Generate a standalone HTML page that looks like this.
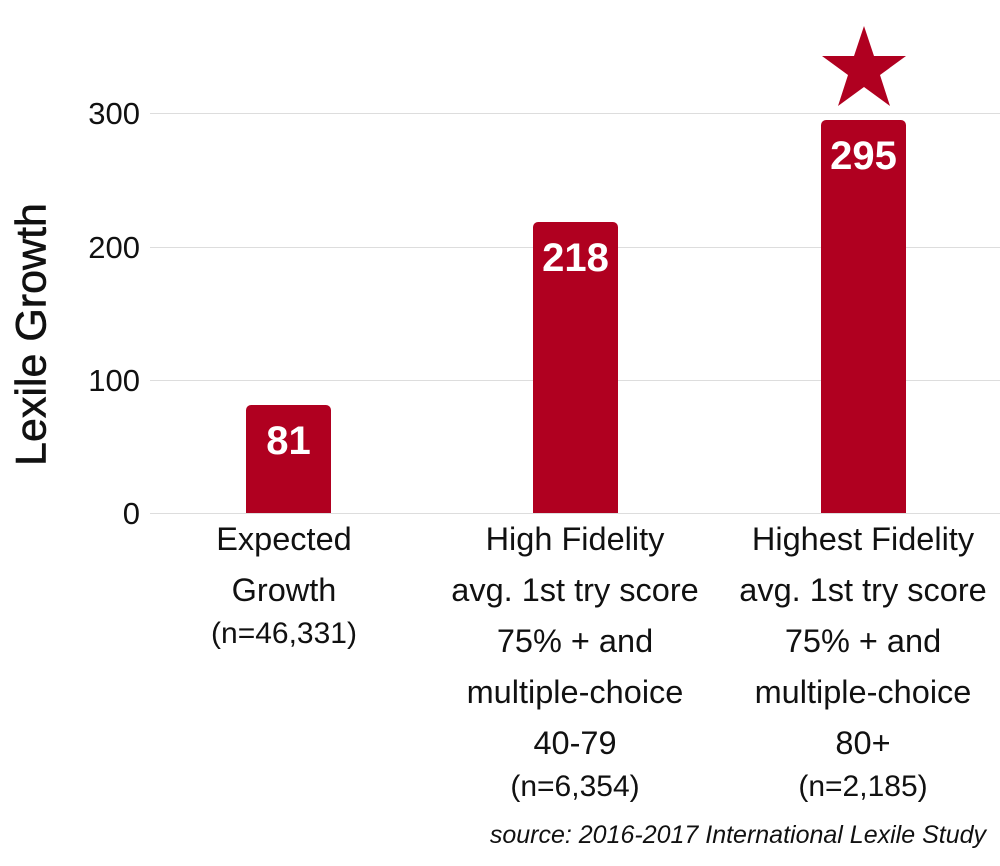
<!DOCTYPE html><html><head><style>
body{margin:0;width:1000px;height:866px;background:#fff;overflow:hidden;font-family:"Liberation Sans",sans-serif}
.a{position:absolute}
.g{position:absolute;left:150px;width:850px;height:1px;background:#ddd}
.t{position:absolute;width:100px;left:40px;text-align:right;font-size:31px;color:#111;line-height:30px}
.b{position:absolute;width:85px;background:#b00020;border-radius:5px 5px 0 0;color:#fff;font-size:40px;font-weight:bold;text-align:center;line-height:72px}
.c{position:absolute;width:320px;text-align:center;color:#111;font-size:32.5px;line-height:51px}
.c small{font-size:30px;display:block;line-height:30px;margin-top:3px}
</style></head><body>
<div class="g" style="top:113px"></div><div class="g" style="top:247px"></div><div class="g" style="top:380px"></div><div class="g" style="top:513px"></div>
<div class="t" style="top:99px">300</div><div class="t" style="top:233px">200</div><div class="t" style="top:366px">100</div><div class="t" style="top:499px">0</div>
<div class="a" style="left:-118px;top:310px;width:300px;text-align:center;font-size:43px;transform:rotate(-90deg);color:#111;-webkit-text-stroke:0.6px #111">Lexile Growth</div>
<div class="b" style="left:246px;top:405px;height:108px">81</div>
<div class="b" style="left:533px;top:222px;height:291px">218</div>
<div class="b" style="left:821px;top:120px;height:393px">295</div>
<svg class="a" style="left:822px;top:26px" width="84" height="82" viewBox="0 0 84 82"><polygon fill="#b00020" points="42,0 52,30 84,30 58,49 68,80 42,61 16,80 26,49 0,30 32,30"/></svg>
<div class="c" style="left:124px;top:514px">Expected<br>Growth<small>(n=46,331)</small></div>
<div class="c" style="left:415px;top:514px">High Fidelity<br>avg. 1st try score<br>75% + and<br>multiple-choice<br>40-79<small>(n=6,354)</small></div>
<div class="c" style="left:703px;top:514px">Highest Fidelity<br>avg. 1st try score<br>75% + and<br>multiple-choice<br>80+<small>(n=2,185)</small></div>
<div class="a" style="right:14px;top:821px;font-size:25px;font-style:italic;color:#111">source: 2016-2017 International Lexile Study</div>
</body></html>
